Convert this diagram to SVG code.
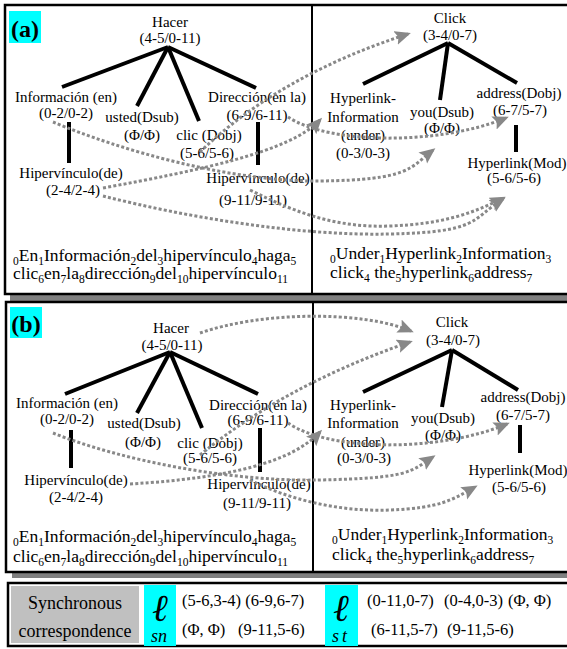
<svg xmlns="http://www.w3.org/2000/svg" width="567" height="649" viewBox="0 0 567 649">
  <style>
    text { font-family: "Liberation Serif", "DejaVu Serif", serif; fill: #000; }
    .lbl { font-size: 15px; text-anchor: middle; }
    .sent { font-size: 17.5px; }
    .sub { font-size: 11.5px; }
    .tag { font-size: 24px; font-weight: bold; text-anchor: middle; }
    .leg { font-size: 16.5px; }
    .legtitle { font-size: 18px; text-anchor: middle; }
    .tree { stroke: #000; stroke-width: 4; fill: none; }
    .frame { fill: #fff; stroke: #000; stroke-width: 2.5; }
    .shadow { fill: #808080; }
    .div { stroke: #000; stroke-width: 2; }
    .align { fill: none; stroke: #888; stroke-width: 3; stroke-dasharray: 3 2.2; marker-end: url(#ah); }
  </style>
  <defs>
    <marker id="ah" markerUnits="userSpaceOnUse" markerWidth="17" markerHeight="15" refX="13" refY="7" orient="auto" viewBox="0 0 17 15">
      <path d="M0,0 L16,7 L0,14 L3,7 z" fill="#888"/>
    </marker>
  </defs>

  <!-- panel frames with drop shadows -->
  <g id="frames">
    <rect class="shadow" x="10" y="11" width="570" height="290"/>
    <rect class="frame" x="5" y="5" width="570" height="289"/>
    <rect class="shadow" x="12" y="308" width="570" height="270"/>
    <rect class="frame" x="6" y="302" width="570" height="270"/>
    <rect class="frame" x="8" y="583" width="570" height="63"/>
    <line class="div" x1="312" y1="5" x2="312" y2="294"/>
    <line class="div" x1="313" y1="302" x2="313" y2="572"/>
  </g>

  <!-- panel tags -->
  <g id="tag-a">
    <rect x="9" y="11" width="32" height="32" fill="#00ffff"/>
    <text class="tag" x="25" y="37">(a)</text>
  </g>
  <g id="tag-b">
    <rect x="10" y="307" width="32" height="31" fill="#00ffff"/>
    <text class="tag" x="26" y="332">(b)</text>
  </g>

  <!-- dependency edges of both trees -->
  <g id="tree-edges">
    <line class="tree" x1="168" y1="47" x2="62" y2="87"/>
    <line class="tree" x1="168" y1="47" x2="137" y2="106"/>
    <line class="tree" x1="168" y1="47" x2="199" y2="121"/>
    <line class="tree" x1="168" y1="47" x2="256" y2="88"/>
    <line class="tree" x1="69" y1="122" x2="69" y2="163"/>
    <line class="tree" x1="258" y1="122" x2="258" y2="165"/>
    <line class="tree" x1="448" y1="43" x2="363" y2="84"/>
    <line class="tree" x1="448" y1="43" x2="440" y2="100"/>
    <line class="tree" x1="448" y1="43" x2="517" y2="83"/>
    <line class="tree" x1="516" y1="125" x2="516" y2="152"/>

    <line class="tree" x1="170" y1="352" x2="65" y2="394"/>
    <line class="tree" x1="170" y1="352" x2="137" y2="413"/>
    <line class="tree" x1="170" y1="352" x2="202" y2="428"/>
    <line class="tree" x1="170" y1="352" x2="258" y2="394"/>
    <line class="tree" x1="71" y1="430" x2="71" y2="468"/>
    <line class="tree" x1="260" y1="428" x2="260" y2="472"/>
    <line class="tree" x1="452" y1="350" x2="363" y2="392"/>
    <line class="tree" x1="452" y1="350" x2="442" y2="407"/>
    <line class="tree" x1="452" y1="350" x2="518" y2="390"/>
    <line class="tree" x1="520" y1="425" x2="520" y2="453"/>
  </g>

  <!-- panel (a): Spanish tree -->
  <g id="a-hacer"><text class="lbl" x="170" y="27">Hacer</text><text class="lbl" x="170" y="43">(4-5/0-11)</text></g>
  <g id="a-informacion"><text class="lbl" x="66" y="102">Información (en)</text><text class="lbl" x="66" y="118">(0-2/0-2)</text></g>
  <g id="a-usted"><text class="lbl" x="142" y="122">usted(Dsub)</text><text class="lbl" x="142" y="140">(Φ/Φ)</text></g>
  <g id="a-clic"><text class="lbl" x="209" y="140">clic (Dobj)</text><text class="lbl" x="207" y="158">(5-6/5-6)</text></g>
  <g id="a-direccion"><text class="lbl" x="257" y="102">Dirección(en la)</text><text class="lbl" x="257" y="120">(6-9/6-11)</text></g>
  <g id="a-hipervinculo1"><text class="lbl" x="71" y="178">Hipervínculo(de)</text><text class="lbl" x="73" y="195">(2-4/2-4)</text></g>
  <g id="a-hipervinculo2"><text class="lbl" x="258" y="183">Hipervínculo(de)</text><text class="lbl" x="253" y="205">(9-11/9-11)</text></g>
  <g id="a-src-sentence">
    <text class="sent" x="13" y="261"><tspan class="sub" dy="4">0</tspan><tspan dy="-4">En</tspan><tspan class="sub" dy="4">1</tspan><tspan dy="-4">Información</tspan><tspan class="sub" dy="4">2</tspan><tspan dy="-4">del</tspan><tspan class="sub" dy="4">3</tspan><tspan dy="-4">hipervínculo</tspan><tspan class="sub" dy="4">4</tspan><tspan dy="-4">haga</tspan><tspan class="sub" dy="4">5</tspan></text>
    <text class="sent" x="13" y="279">clic<tspan class="sub" dy="4">6</tspan><tspan dy="-4">en</tspan><tspan class="sub" dy="4">7</tspan><tspan dy="-4">la</tspan><tspan class="sub" dy="4">8</tspan><tspan dy="-4">dirección</tspan><tspan class="sub" dy="4">9</tspan><tspan dy="-4">del</tspan><tspan class="sub" dy="4">10</tspan><tspan dy="-4">hipervínculo</tspan><tspan class="sub" dy="4">11</tspan></text>
  </g>

  <!-- panel (a): English tree -->
  <g id="a-click"><text class="lbl" x="450" y="23">Click</text><text class="lbl" x="450" y="40">(3-4/0-7)</text></g>
  <g id="a-hyperlink-information"><text class="lbl" x="363" y="103">Hyperlink-</text><text class="lbl" x="363" y="122">Information</text><text class="lbl" x="363" y="140">(under)</text><text class="lbl" x="363" y="158">(0-3/0-3)</text></g>
  <g id="a-you"><text class="lbl" x="442" y="117">you(Dsub)</text><text class="lbl" x="442" y="133">(Φ/Φ)</text></g>
  <g id="a-address"><text class="lbl" x="519" y="98">address(Dobj)</text><text class="lbl" x="520" y="115">(6-7/5-7)</text></g>
  <g id="a-hyperlink-mod"><text class="lbl" x="517" y="168">Hyperlink(Mod)</text><text class="lbl" x="514" y="183">(5-6/5-6)</text></g>
  <g id="a-tgt-sentence">
    <text class="sent" x="330" y="259"><tspan class="sub" dy="4">0</tspan><tspan dy="-4">Under</tspan><tspan class="sub" dy="4">1</tspan><tspan dy="-4">Hyperlink</tspan><tspan class="sub" dy="4">2</tspan><tspan dy="-4">Information</tspan><tspan class="sub" dy="4">3</tspan></text>
    <text class="sent" x="330" y="278">click<tspan class="sub" dy="4">4</tspan><tspan dy="-4"> the</tspan><tspan class="sub" dy="4">5</tspan><tspan dy="-4">hyperlink</tspan><tspan class="sub" dy="4">6</tspan><tspan dy="-4">address</tspan><tspan class="sub" dy="4">7</tspan></text>
  </g>

  <!-- panel (b): Spanish tree -->
  <g id="b-hacer"><text class="lbl" x="171" y="333">Hacer</text><text class="lbl" x="172" y="350">(4-5/0-11)</text></g>
  <g id="b-informacion"><text class="lbl" x="67" y="408">Información (en)</text><text class="lbl" x="67" y="424">(0-2/0-2)</text></g>
  <g id="b-usted"><text class="lbl" x="144" y="428">usted(Dsub)</text><text class="lbl" x="143" y="447">(Φ/Φ)</text></g>
  <g id="b-clic"><text class="lbl" x="210" y="448">clic (Dobj)</text><text class="lbl" x="210" y="463">(5-6/5-6)</text></g>
  <g id="b-direccion"><text class="lbl" x="258" y="410">Dirección(en la)</text><text class="lbl" x="258" y="425">(6-9/6-11)</text></g>
  <g id="b-hipervinculo1"><text class="lbl" x="76" y="485">Hipervínculo(de)</text><text class="lbl" x="76" y="502">(2-4/2-4)</text></g>
  <g id="b-hipervinculo2"><text class="lbl" x="259" y="489">Hipervínculo(de)</text><text class="lbl" x="257" y="508">(9-11/9-11)</text></g>
  <g id="b-src-sentence">
    <text class="sent" x="13" y="542"><tspan class="sub" dy="4">0</tspan><tspan dy="-4">En</tspan><tspan class="sub" dy="4">1</tspan><tspan dy="-4">Información</tspan><tspan class="sub" dy="4">2</tspan><tspan dy="-4">del</tspan><tspan class="sub" dy="4">3</tspan><tspan dy="-4">hipervínculo</tspan><tspan class="sub" dy="4">4</tspan><tspan dy="-4">haga</tspan><tspan class="sub" dy="4">5</tspan></text>
    <text class="sent" x="13" y="562">clic<tspan class="sub" dy="4">6</tspan><tspan dy="-4">en</tspan><tspan class="sub" dy="4">7</tspan><tspan dy="-4">la</tspan><tspan class="sub" dy="4">8</tspan><tspan dy="-4">dirección</tspan><tspan class="sub" dy="4">9</tspan><tspan dy="-4">del</tspan><tspan class="sub" dy="4">10</tspan><tspan dy="-4">hipervínculo</tspan><tspan class="sub" dy="4">11</tspan></text>
  </g>

  <!-- panel (b): English tree -->
  <g id="b-click"><text class="lbl" x="452" y="327">Click</text><text class="lbl" x="453" y="345">(3-4/0-7)</text></g>
  <g id="b-hyperlink-information"><text class="lbl" x="363" y="410">Hyperlink-</text><text class="lbl" x="363" y="428">Information</text><text class="lbl" x="363" y="447">(under)</text><text class="lbl" x="364" y="463">(0-3/0-3)</text></g>
  <g id="b-you"><text class="lbl" x="443" y="423">you(Dsub)</text><text class="lbl" x="443" y="440">(Φ/Φ)</text></g>
  <g id="b-address"><text class="lbl" x="523" y="402">address(Dobj)</text><text class="lbl" x="523" y="420">(6-7/5-7)</text></g>
  <g id="b-hyperlink-mod"><text class="lbl" x="518" y="475">Hyperlink(Mod)</text><text class="lbl" x="519" y="492">(5-6/5-6)</text></g>
  <g id="b-tgt-sentence">
    <text class="sent" x="332" y="540"><tspan class="sub" dy="4">0</tspan><tspan dy="-4">Under</tspan><tspan class="sub" dy="4">1</tspan><tspan dy="-4">Hyperlink</tspan><tspan class="sub" dy="4">2</tspan><tspan dy="-4">Information</tspan><tspan class="sub" dy="4">3</tspan></text>
    <text class="sent" x="332" y="560">click<tspan class="sub" dy="4">4</tspan><tspan dy="-4"> the</tspan><tspan class="sub" dy="4">5</tspan><tspan dy="-4">hyperlink</tspan><tspan class="sub" dy="4">6</tspan><tspan dy="-4">address</tspan><tspan class="sub" dy="4">7</tspan></text>
  </g>

  <!-- alignment arrows between the trees -->
  <g id="alignments">
    <path class="align" d="M200,152 Q280,75 408,34"/>
    <path class="align" d="M53,122 C120,150 230,182 320,181 S410,168 433,150"/>
    <path class="align" d="M103,188 C200,170 290,152 320,120"/>
    <path class="align" d="M288,117 C330,145 440,145 506,118"/>
    <path class="align" d="M250,190 C300,215 340,228 390,226 S470,215 503,198"/>
    <path class="align" d="M103,196 C190,218 300,236 390,234 S470,220 503,199"/>

    <path class="align" d="M200,333 C260,312 360,310 411,331"/>
    <path class="align" d="M200,455 Q285,385 410,342"/>
    <path class="align" d="M53,433 C120,460 230,482 320,480 S410,472 433,457"/>
    <path class="align" d="M130,484 C230,478 292,462 320,432"/>
    <path class="align" d="M250,480 C290,500 340,512 390,510 S452,500 475,487"/>
    <path class="align" d="M288,423 C330,452 440,452 507,424"/>
  </g>

  <!-- legend -->
  <g id="legend">
    <rect x="11" y="586" width="128" height="57" fill="#c0c0c0"/>
    <text class="legtitle" x="75" y="609">Synchronous</text>
    <text class="legtitle" x="75" y="637">correspondence</text>
    <rect x="144" y="585" width="32" height="61" fill="#00ffff"/>
    <text x="160" y="621" font-size="38" font-style="italic" text-anchor="middle">ℓ</text>
    <text x="159" y="642" font-size="18" font-style="italic" text-anchor="middle">sn</text>
    <text class="leg" x="182" y="606">(5-6,3-4) (6-9,6-7)</text>
    <text class="leg" x="182" y="635">(Φ, Φ)</text>
    <text class="leg" x="238" y="635">(9-11,5-6)</text>
    <rect x="325" y="585" width="33" height="61" fill="#00ffff"/>
    <text x="341" y="621" font-size="38" font-style="italic" text-anchor="middle">ℓ</text>
    <text x="341" y="642" font-size="18" font-style="italic" text-anchor="middle" letter-spacing="3">st</text>
    <text class="leg" x="367" y="606">(0-11,0-7)</text>
    <text class="leg" x="444" y="606">(0-4,0-3)</text>
    <text class="leg" x="508" y="606">(Φ, Φ)</text>
    <text class="leg" x="371" y="635">(6-11,5-7)</text>
    <text class="leg" x="447" y="635">(9-11,5-6)</text>
  </g>
</svg>
